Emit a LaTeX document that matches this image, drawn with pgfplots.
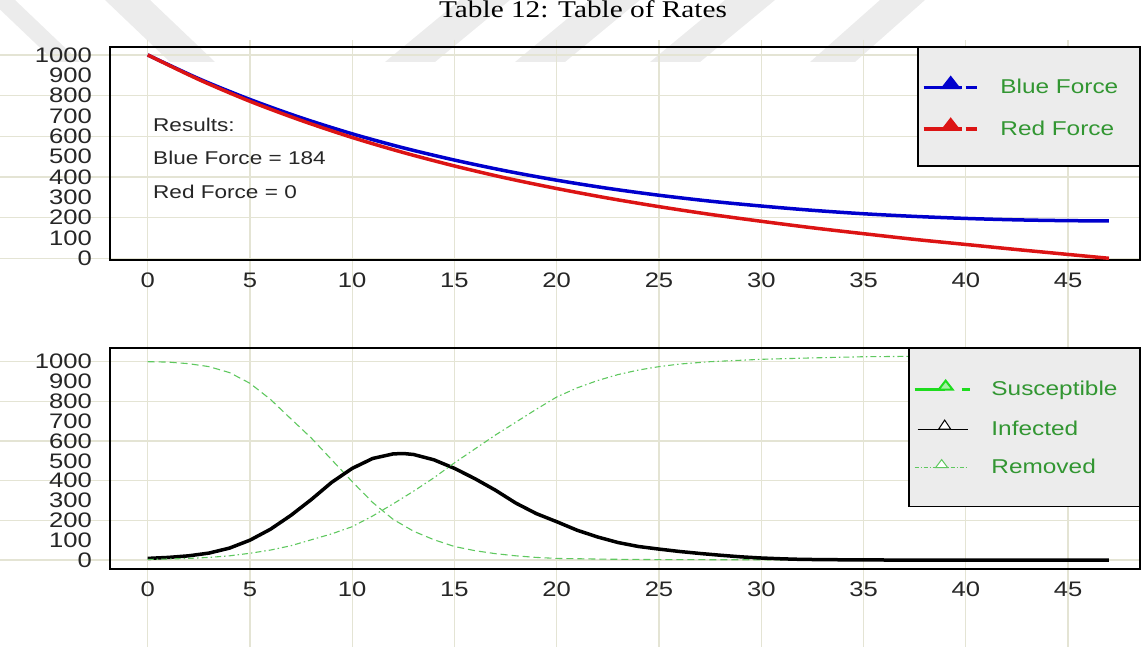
\documentclass[border=0pt]{standalone}
\usepackage{pgfplots}
\pgfplotsset{compat=1.18}
\usepackage{pgfplotstable}
\usepackage{fontspec}
\setmainfont{Liberation Sans}[FakeStretch=1.22]
\newfontfamily\titlefont{Liberation Serif}[FakeStretch=1.22]

\definecolor{gridc}{RGB}{228,228,212}
\definecolor{wm}{RGB}{236,236,236}
\definecolor{bforce}{RGB}{0,0,205}
\definecolor{rforce}{RGB}{220,20,20}
\definecolor{lgreen}{RGB}{95,200,95}
\definecolor{bgreen}{RGB}{30,220,30}
\definecolor{legtext}{RGB}{50,150,50}
\definecolor{leggray}{RGB}{236,236,236}

\pgfplotstableread{
t B R
0 1000 1000
2.5 883 879
5 781 772
7.5 691 678
10 612 594
12.5 543 520
15 483 454
17.5 430 395
20 384 343
22.5 344 296
25 310 254
27.5 281 216
30 257 182
32.5 236 150
35 219 121
37.5 206 93
40 196 68
42.5 189 43
45 185 19
47 184 0
}\forces

\pgfplotstableread{
t S
0 1000
1 998
2 990
3 975
4 945
5 891
6 810
7 712
8 615
9 505
10 395
11 290
12 205
13 145
14 102
15 68
16 47
17 32
18 21
19 13
20 8
22.5 4
25 2
30 1
35 0
47 0
}\susc

\pgfplotstableread{
t I
0 8
1 13
2 21
3 35
4 60
5 100
6 155
7 225
8 305
9 392
10 462
11 512
12 535
12.5 537
13 532
14 505
15 462
16 410
17 352
18 287
19 234
20 193
21 150
22 116
23 88
24 68
25 55
26 43
27 33
28 24
29 16
30 10
31 6
32 3
34 1
36 0
47 0
}\infec

\pgfplotstableread{
t R
0 3
1 5
2 8
3 13
4 21
5 34
6 50
7 72
8 102
9 132
10 168
11 222
12 283
13 347
14 415
15 490
16 560
17 630
18 695
19 760
20 822
21 868
22 905
23 935
24 958
25 975
26 988
27.5 1000
30 1012
32.5 1019
35 1025
37.5 1027
40 1028
47 1030
}\remov

\pgfplotsset{
  panel/.style={
    scale only axis, width=1030pt,
    xmin=-1.844, xmax=48.52,
    xtick={0,5,...,45}, ytick={0,100,...,1000},
    major tick length=0pt,
    axis line style={black, line width=1.2pt},
    tick label style={font=\fontsize{21}{21}\selectfont, text=black!85},
    /pgf/number format/assume math mode=true,
    /pgf/number format/1000 sep={},
    scaled y ticks=false, scaled x ticks=false,
    yticklabel style={inner sep=0pt, xshift=-18pt},
    xticklabel style={inner sep=0pt, yshift=-13pt},
    legend cell align=left,
  },
  legbox/.style={
    legend style={at={(1,1)}, anchor=north east, fill=leggray,
      draw=black, line width=1.2pt, inner xsep=4pt, inner ysep=#1,
      row sep=23pt, font=\fontsize{20}{20}\selectfont, text=legtext},
  },
}

\begin{document}
\begin{tikzpicture}
\useasboundingbox (0,0) rectangle (1141pt,-647pt);
\clip (0,0) rectangle (1141pt,-647pt);
\begin{scope}[x=1pt,y=-1pt]
  % watermark
  \fill[wm] (-10,0) -- (15,0) -- (80,62) -- (55,62) -- cycle;
  \fill[wm] (105,0) -- (150,0) -- (215,62) -- (170,62) -- cycle;
  \fill[wm] (460,0) -- (510,0) -- (435,62) -- (385,62) -- cycle;
  \fill[wm] (590,0) -- (640,0) -- (565,62) -- (515,62) -- cycle;
  \fill[wm] (725,0) -- (775,0) -- (700,62) -- (650,62) -- cycle;
  \fill[wm] (880,0) -- (925,0) -- (855,62) -- (810,62) -- cycle;
  % title
  \node[anchor=base, inner sep=0pt, font=\titlefont\fontsize{24}{24}\selectfont] at (583,18) {Table 12: Table of Rates};
  % grid lines spanning the panels
  \foreach \gx in {147.7,249.95,352.2,454.45,556.7,658.95,761.2,863.45,965.7,1067.95}
    \draw[gridc, line width=1.2pt] (\gx,40) -- (\gx,647);
  \foreach \gy in {55,95.66,136.32,176.98,217.64,258.3}
    \draw[gridc, line width=1.2pt] (0,\gy) -- (1140,\gy);
  \foreach \gy in {361.7,401.36,441.02,480.68,520.34,560}
    \draw[gridc, line width=1.2pt] (0,\gy) -- (1140,\gy);
  % results text
  \begin{scope}[every node/.style={anchor=base west, inner sep=0pt, font=\fontsize{18.5}{18.5}\selectfont, text=black!85}]
    \node at (153,132) {Results:};
    \node at (153,165) {Blue Force = 184};
    \node at (153,199) {Red Force = 0};
  \end{scope}
\end{scope}

\begin{axis}[panel, at={(110pt,-47pt)}, anchor=north west, height=213pt,
  ymin=-8.4, ymax=1039, legbox=29pt,
  legend style={nodes={inner sep=0pt, text height=14pt, text depth=2pt, text width=135pt, align=left}}]
\addplot[bforce, line width=3.5pt, smooth,
  legend image code/.code={
    \draw[solid, bforce, line width=3.5pt] (0pt,0pt) -- (38pt,0pt) (42pt,0pt) -- (53pt,0pt);
    \fill[bforce] (20pt,0pt) -- (27pt,9pt) -- (34pt,0pt) -- cycle;
    \path (75pt,0pt);}] table[x=t, y=B] {\forces};
\addlegendentry{Blue Force}
\addplot[rforce, line width=3.5pt, smooth,
  legend image code/.code={
    \draw[solid, rforce, line width=3.5pt] (0pt,0pt) -- (38pt,0pt) (42pt,0pt) -- (53pt,0pt);
    \fill[rforce] (20pt,0pt) -- (27pt,9pt) -- (34pt,0pt) -- cycle;
    \path (75pt,0pt);}] table[x=t, y=R] {\forces};
\addlegendentry{Red Force}
\end{axis}

\begin{axis}[panel, at={(110pt,-348pt)}, anchor=north west, height=221pt,
  ymin=-45.4, ymax=1069, legbox=31pt,
  legend style={row sep=22pt, nodes={inner sep=0pt, text height=14pt, text depth=2pt, text width=144pt, align=left}}]
\addplot[lgreen, line width=1.1pt, dash pattern=on 7pt off 4pt,
  legend image code/.code={
    \draw[solid, bgreen, line width=3.5pt] (0pt,0pt) -- (30pt,0pt) (47pt,0pt) -- (55pt,0pt);
    \draw[solid, bgreen, line width=2pt, fill=bgreen!40] (24pt,0pt) -- (31pt,9pt) -- (38pt,0pt) -- cycle;
    \path (75pt,0pt);}] table[x=t, y=S] {\susc};
\addlegendentry{Susceptible}
\addplot[black, line width=3.5pt,
  legend image code/.code={
    \draw[solid, black, line width=1pt] (3pt,0pt) -- (53pt,0pt);
    \draw[solid, black, line width=1pt, fill=white] (24pt,0pt) -- (30pt,9pt) -- (36pt,0pt) -- cycle;
    \path (75pt,0pt);}] table[x=t, y=I] {\infec};
\addlegendentry{Infected}
\addplot[lgreen, line width=1.1pt, dash pattern=on 6pt off 3pt on 1.5pt off 3pt,
  legend image code/.code={
    \draw[lgreen, line width=1pt, dash pattern=on 4pt off 2pt on 1pt off 2pt] (0pt,0pt) -- (53pt,0pt);
    \draw[solid, lgreen, line width=1pt, fill=white] (21pt,0pt) -- (27pt,8pt) -- (33pt,0pt) -- cycle;
    \path (75pt,0pt);}] table[x=t, y=R] {\remov};
\addlegendentry{Removed}
\end{axis}
\end{tikzpicture}
\end{document}
